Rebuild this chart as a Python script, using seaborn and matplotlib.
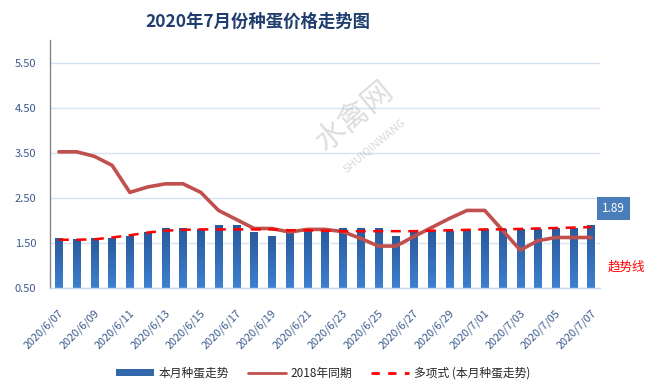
import matplotlib
matplotlib.use('Agg')
import matplotlib.pyplot as plt
import matplotlib.transforms as mtransforms
from matplotlib.lines import Line2D
from matplotlib.patches import Patch
import numpy as np
import pandas as pd
import seaborn as sns

DATES = ['2020/6/07', '2020/6/08', '2020/6/09', '2020/6/10', '2020/6/11', '2020/6/12',
         '2020/6/13', '2020/6/14', '2020/6/15', '2020/6/16', '2020/6/17', '2020/6/18',
         '2020/6/19', '2020/6/20', '2020/6/21', '2020/6/22', '2020/6/23', '2020/6/24',
         '2020/6/25', '2020/6/26', '2020/6/27', '2020/6/28', '2020/6/29', '2020/6/30',
         '2020/7/01', '2020/7/02', '2020/7/03', '2020/7/04', '2020/7/05', '2020/7/06',
         '2020/7/07']
THIS_MONTH = [1.59, 1.58, 1.59, 1.59, 1.64, 1.74, 1.82, 1.82, 1.80, 1.89, 1.89, 1.74,
              1.64, 1.70, 1.78, 1.80, 1.82, 1.82, 1.82, 1.64, 1.74, 1.78, 1.75, 1.78,
              1.80, 1.80, 1.80, 1.80, 1.82, 1.82, 1.89]
SAME_2018 = [3.52, 3.52, 3.42, 3.22, 2.62, 2.74, 2.81, 2.81, 2.62, 2.22, 2.02, 1.82,
             1.82, 1.74, 1.80, 1.80, 1.75, 1.60, 1.43, 1.43, 1.64, 1.84, 2.04, 2.22,
             2.22, 1.78, 1.34, 1.55, 1.62, 1.62, 1.62]
TREND = [1.57, 1.57, 1.58, 1.62, 1.67, 1.73, 1.77, 1.79, 1.80, 1.80, 1.80, 1.80,
         1.80, 1.78, 1.78, 1.77, 1.76, 1.76, 1.76, 1.76, 1.76, 1.77, 1.78, 1.79,
         1.80, 1.80, 1.81, 1.82, 1.83, 1.84, 1.85]
Y_TICKS = [0.5, 1.5, 2.5, 3.5, 4.5, 5.5]

TITLE = '2020年7月份种蛋价格走势图'
LABELS = ['本月种蛋走势', '2018年同期', '多项式 (本月种蛋走势)']

sns.set_theme(style='white')
plt.rcParams['font.family'] = ['Noto Sans CJK SC', 'DejaVu Sans']

df = pd.DataFrame({'date': DATES, 'price': THIS_MONTH, 'y2018': SAME_2018,
                   'trend': TREND})
df['x'] = range(len(df))

YMIN, YMAX = 0.5, 6.0
TICK_COLOR = '#3a5a8c'

fig = plt.figure(figsize=(6.51, 3.92), dpi=100)
ax = fig.add_axes([0.0768, 0.2653, 0.845, 0.6327])

sns.barplot(data=df, x='x', y='price', color='#3a74bd', width=0.42,
            saturation=1, ax=ax, zorder=2)

# vertical gradient on each bar, kept inside the plot area
grad = np.linspace(0, 1, 64).reshape(-1, 1)
cmap = matplotlib.colors.LinearSegmentedColormap.from_list(
    'bar', ['#3d80cf', '#2a5a9c'])
for p in ax.patches:
    x0, w, h = p.get_x(), p.get_width(), p.get_height()
    ax.imshow(grad, extent=(x0, x0 + w, h, YMIN), aspect='auto',
              cmap=cmap, zorder=2.1, origin='upper')

sns.lineplot(data=df, x='x', y='y2018', color='#c0504d', lw=2.6, ax=ax,
             zorder=3)
sns.lineplot(data=df, x='x', y='trend', color='#ff0000', lw=1.8, ax=ax,
             zorder=4, linestyle=(0, (4, 3)))

ax.set_xlim(-0.5, len(DATES) - 0.5)
ax.set_ylim(YMIN, YMAX)
ax.set_yticks(Y_TICKS)
ax.set_yticklabels([f'{v:.2f}' for v in Y_TICKS], fontsize=8, color=TICK_COLOR)
ax.set_xticks(df['x'][::2])
ax.set_xticklabels(df['date'][::2], rotation=45, ha='right',
                   fontsize=7.8, color=TICK_COLOR)
ax.tick_params(axis='y', length=0, pad=10)
ax.tick_params(axis='x', length=0, pad=14)
shift = mtransforms.ScaledTranslation(5 / 72, 0, fig.dpi_scale_trans)
for lab in ax.get_xticklabels():
    lab.set_transform(lab.get_transform() + shift)
ax.set_xlabel('')
ax.set_ylabel('')
ax.grid(axis='y', color='#d6e3f2', lw=1, zorder=0)
for s in ['top', 'right']:
    ax.spines[s].set_visible(False)
ax.spines['left'].set_color('#868686')
ax.spines['left'].set_linewidth(1)
ax.spines['bottom'].set_color('#c5d6ec')
ax.spines['bottom'].set_linewidth(1)

# watermark
ax.text(0.555, 0.69, '水禽网', transform=ax.transAxes, rotation=40,
        fontsize=22, color='#a0a0a0', alpha=0.35, ha='center', va='center',
        zorder=1)
ax.text(0.59, 0.575, 'SHUIQINWANG', transform=ax.transAxes, rotation=40,
        fontsize=8, color='#a0a0a0', alpha=0.4, ha='center', va='center',
        zorder=1)

# data label for last bar
ax.annotate(f'{THIS_MONTH[-1]:.2f}', xy=(len(DATES) - 1, THIS_MONTH[-1]),
            xytext=(16, 12), textcoords='offset points', ha='center',
            va='center', fontsize=8.5, color='white',
            bbox=dict(boxstyle='square,pad=0.4', fc='#4a7ebb', ec='none'),
            annotation_clip=False, zorder=6)

fig.text(608 / 651, 1 - 267 / 392, '趋势线', color='#ff0000', fontsize=9,
         ha='left', va='center')

fig.text(258 / 651, 1 - 22 / 392, TITLE, ha='center', va='center',
         fontsize=12.5, fontweight='bold', color='#1f3d6e')

handles = [Patch(facecolor='#3366aa', edgecolor='none'),
           Line2D([], [], color='#c0504d', lw=2),
           Line2D([], [], color='#ff0000', lw=2, linestyle=(0, (3, 3)))]
fig.legend(handles, LABELS, loc='center', bbox_to_anchor=(323 / 651, 1 - 373 / 392),
           ncol=3, frameon=False, fontsize=8.5, handlelength=3.2,
           handleheight=0.5, columnspacing=1.6, handletextpad=0.4)

fig.savefig('out.png', dpi=100)
